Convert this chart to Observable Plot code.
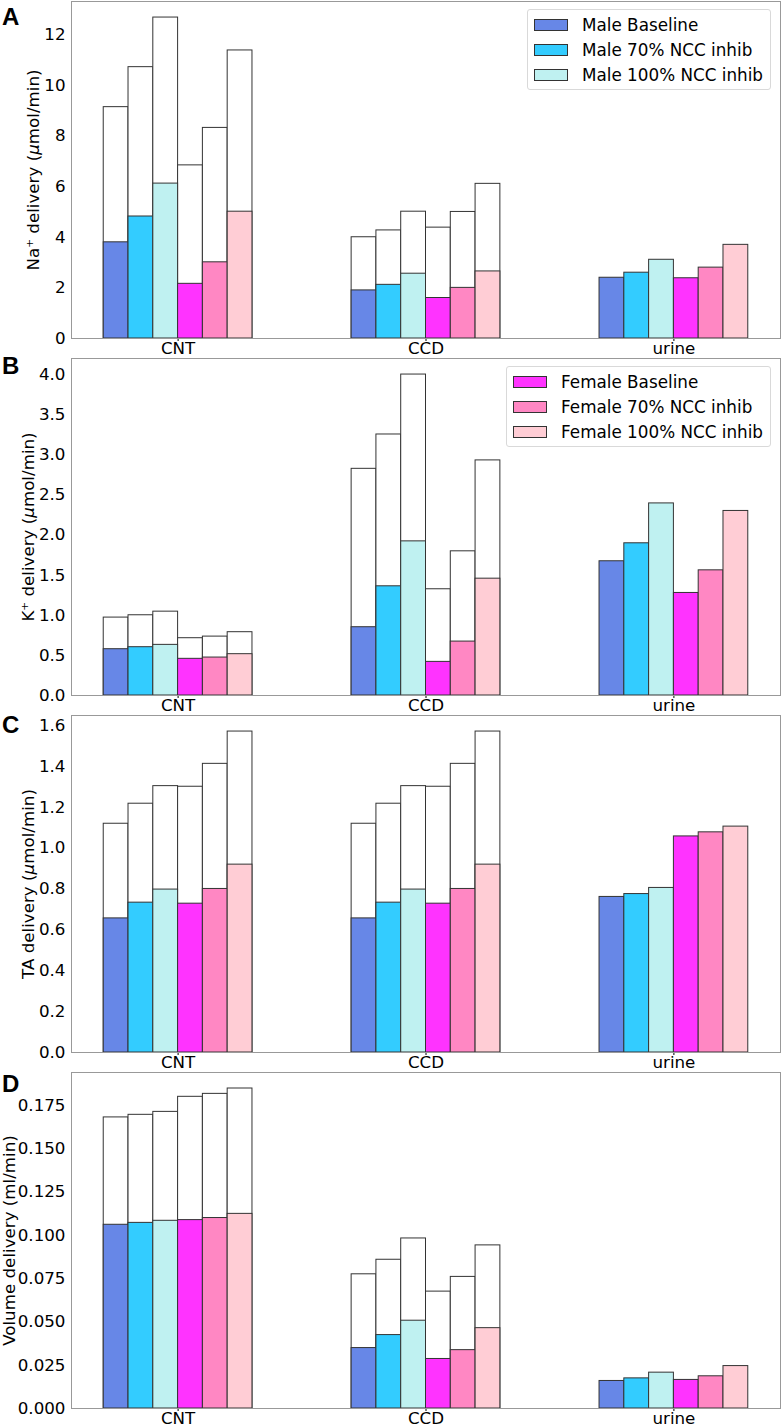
<!DOCTYPE html>
<html><head><meta charset="utf-8">
<script src="https://cdn.jsdelivr.net/npm/d3@7"></script>
<script src="https://cdn.jsdelivr.net/npm/@observablehq/plot@0.6"></script>
<style>
body{margin:0;background:#fff;font-family:"DejaVu Sans",sans-serif;}
#root{position:relative;width:781px;height:1428px;}
.panel svg{display:block}
.letter{position:absolute;left:2px;font:bold 24px/24px "Liberation Sans",Arial,sans-serif;color:#000}
.legend{position:absolute;right:10px;border:1px solid #d9d9d9;border-radius:3px;background:rgba(255,255,255,0.85);padding:2px 7px 2px 6px;font-size:16.8px;color:#000;font-family:"DejaVu Sans",sans-serif}
.legend .row{display:flex;align-items:center;height:25px;white-space:nowrap}
.legend .sw{width:32px;height:10px;border:1px solid #333;margin-right:14px;flex:none}
</style></head>
<body><div id="root"></div>
<script>
const groups = ["CNT", "CCD", "urine"];
const series = ["Male Baseline", "Male 70% NCC inhib", "Male 100% NCC inhib",
                "Female Baseline", "Female 70% NCC inhib", "Female 100% NCC inhib"];
const colors = ["#6787E7", "#33CCFF", "#BFF1F1", "#FF33FF", "#FF87C3", "#FFCDD5"];

// Panel A: Na+ delivery
const naTotalCNT = [9.14, 10.72, 12.68, 6.84, 8.32, 11.38];
const naCNT      = [3.80, 4.82, 6.12, 2.16, 3.01, 5.01];
const naTotalCCD = [4.00, 4.27, 5.01, 4.38, 5.00, 6.11];
const naCCD      = [1.90, 2.12, 2.56, 1.60, 2.00, 2.65];
const naUrine    = [2.40, 2.60, 3.11, 2.38, 2.80, 3.70];
const naTicks    = [0, 2, 4, 6, 8, 10, 12];

// Panel B: K+ delivery
const kTotalCNT = [0.971, 1.00, 1.045, 0.714, 0.734, 0.789];
const kCNT      = [0.577, 0.602, 0.631, 0.457, 0.473, 0.515];
const kTotalCCD = [2.825, 3.253, 4.00, 1.324, 1.797, 2.93];
const kCCD      = [0.851, 1.361, 1.921, 0.419, 0.672, 1.456];
const kUrine    = [1.673, 1.897, 2.394, 1.278, 1.56, 2.30];
const kTicks    = [0, 0.5, 1.0, 1.5, 2.0, 2.5, 3.0, 3.5, 4.0];

// Panel C: TA delivery
const taTotalCNT = [1.119, 1.217, 1.303, 1.300, 1.412, 1.570];
const taCNT      = [0.656, 0.733, 0.797, 0.728, 0.800, 0.919];
const taTotalCCD = [1.119, 1.217, 1.303, 1.300, 1.412, 1.570];
const taCCD      = [0.656, 0.733, 0.797, 0.728, 0.800, 0.919];
const taUrine    = [0.761, 0.775, 0.805, 1.057, 1.077, 1.105];
const taTicks    = [0, 0.2, 0.4, 0.6, 0.8, 1.0, 1.2, 1.4, 1.6];

// Panel D: Volume delivery
const volTotalCNT = [0.1681, 0.1696, 0.1713, 0.1800, 0.1817, 0.1848];
const volCNT      = [0.1061, 0.1072, 0.1084, 0.1088, 0.1100, 0.1124];
const volTotalCCD = [0.0775, 0.0859, 0.0982, 0.0675, 0.0760, 0.0942];
const volCCD      = [0.0349, 0.0424, 0.0507, 0.0286, 0.0337, 0.0464];
const volUrine    = [0.0159, 0.0174, 0.0207, 0.0165, 0.0186, 0.0245];
const volTicks    = [0, 0.025, 0.05, 0.075, 0.1, 0.125, 0.15, 0.175];

const panels = [
  {letter: "A", letterTop: 5, label: "Na⁺ delivery (μmol/min)", totals: [naTotalCNT, naTotalCCD], segs: [naCNT, naCCD, naUrine], ticks: naTicks, fmt: d3.format("d"), labelOffset: 44, legend: [0, 1, 2], legendTop: 9, mb: 19},
  {letter: "B", letterTop: 353.5, label: "K⁺ delivery (μmol/min)", totals: [kTotalCNT, kTotalCCD], segs: [kCNT, kCCD, kUrine], ticks: kTicks, fmt: d3.format(".1f"), labelOffset: 49, legend: [3, 4, 5], legendTop: 366, mb: 19},
  {letter: "C", letterTop: 713, label: "TA delivery (μmol/min)", totals: [taTotalCNT, taTotalCCD], segs: [taCNT, taCCD, taUrine], ticks: taTicks, fmt: d3.format(".1f"), labelOffset: 49, mb: 19},
  {letter: "D", letterTop: 1072, label: "Volume delivery (ml/min)", totals: [volTotalCNT, volTotalCCD], segs: [volCNT, volCCD, volUrine], ticks: volTicks, fmt: d3.format(".3f"), labelOffset: 68, mb: 20}
];

const barW = 0.1;
function toRows(arrays) {
  const out = [];
  arrays.forEach((arr, gi) => arr.forEach((v, si) => out.push({
    group: groups[gi], series: series[si], value: v,
    x1: gi + (si - 3) * barW, x2: gi + (si - 2) * barW
  })));
  return out;
}

const root = document.getElementById("root");
for (const p of panels) {
  const totalRows = toRows(p.totals);
  const segRows = toRows(p.segs);
  const ymax = d3.max([...totalRows, ...segRows], d => d.value) * 1.05;
  const chart = Plot.plot({
    width: 781, height: 357,
    marginLeft: 71, marginRight: 1, marginTop: 1, marginBottom: p.mb,
    style: {fontFamily: "DejaVu Sans, sans-serif", fontSize: "16.7px", color: "#000", background: "#fff", overflow: "visible"},
    x: {domain: [-0.43, 2.43], ticks: [0, 1, 2], tickFormat: i => groups[i], tickSize: 3, tickPadding: 1, label: null},
    y: {domain: [0, ymax], ticks: p.ticks, tickFormat: p.fmt, tickSize: 0, tickPadding: 6,
        label: p.label, labelAnchor: "center", labelOffset: p.labelOffset, labelArrow: "none"},
    color: {domain: series, range: colors},
    marks: [
      Plot.rectY(totalRows, {x1: "x1", x2: "x2", y1: 0, y2: "value", fill: "white", stroke: "#333", strokeWidth: 1}),
      Plot.rectY(segRows, {x1: "x1", x2: "x2", y1: 0, y2: "value", fill: "series", stroke: "#333", strokeWidth: 1}),
      Plot.frame({stroke: "#999"})
    ]
  });
  // italic mu as in the mathtext label
  if (p.label.includes("μ")) {
    d3.select(chart).selectAll("text").filter(function() { return this.textContent === p.label; })
      .each(function() {
        const parts = p.label.split("μ");
        const sel = d3.select(this).text(null);
        sel.append("tspan").text(parts[0]);
        sel.append("tspan").attr("font-style", "italic").text("μ");
        sel.append("tspan").text(parts[1]);
      });
  }
  const wrap = document.createElement("div");
  wrap.className = "panel";
  wrap.appendChild(chart);
  root.appendChild(wrap);

  const L = document.createElement("div");
  L.className = "letter";
  L.style.top = p.letterTop + "px";
  L.textContent = p.letter;
  root.appendChild(L);

  if (p.legend) {
    const lg = document.createElement("div");
    lg.className = "legend";
    lg.style.top = p.legendTop + "px";
    for (const i of p.legend) {
      const row = document.createElement("div");
      row.className = "row";
      const sw = document.createElement("div");
      sw.className = "sw";
      sw.style.background = colors[i];
      const t = document.createElement("span");
      t.textContent = series[i];
      row.appendChild(sw); row.appendChild(t);
      lg.appendChild(row);
    }
    root.appendChild(lg);
  }
}
</script></body></html>
